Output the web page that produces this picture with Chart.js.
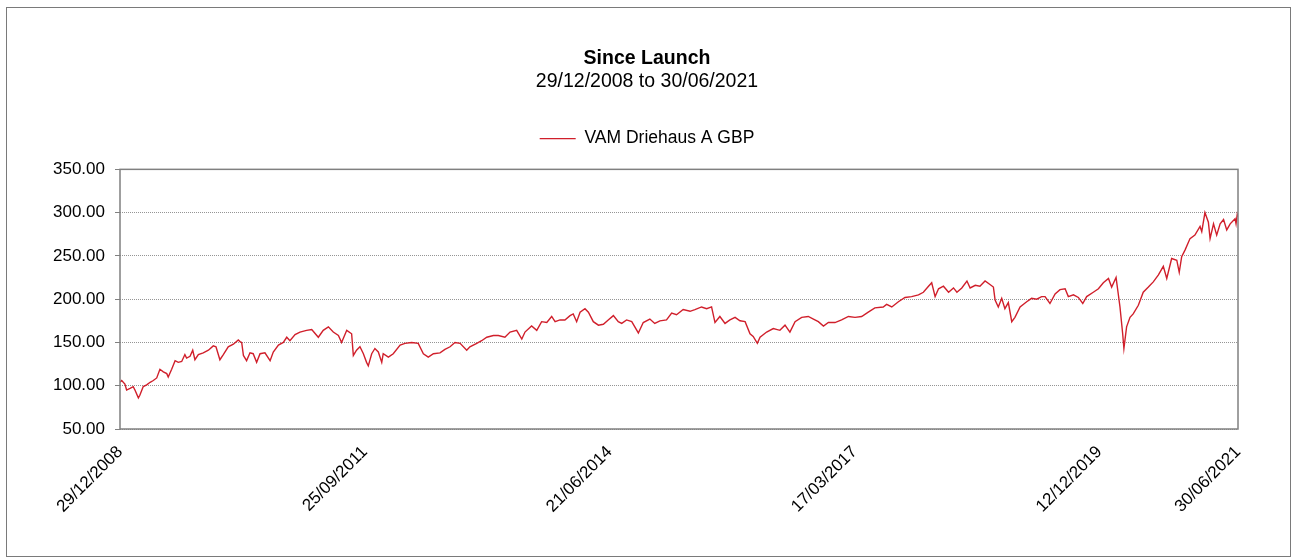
<!DOCTYPE html>
<html>
<head>
<meta charset="utf-8">
<script src="https://cdn.jsdelivr.net/npm/chart.js@4.4.0/dist/chart.umd.min.js"></script>
<style>
  body { margin: 0; background: #fff; }
  #wrap { position: relative; width: 1294px; height: 559px; }
  #frame { position: absolute; left: 6px; top: 7px; width: 1283px; height: 548px; border: 1px solid #7a7a7a; pointer-events: none; }
</style>
</head>
<body>
<div id="wrap">
  <canvas id="perf-chart"></canvas>
  <div id="frame"></div>
</div>
<script>
// days since launch (29/12/2008) and index value
const launchDate = Date.UTC(2008, 11, 29);
const endDay = 4566; // 30/06/2021
const tickDays = [0, 1000, 2000, 3000, 4000, 4566];
const yTicks = [50, 100, 150, 200, 250, 300, 350];

const days = [
  0, 7, 20, 27, 41, 54, 61, 75, 81, 95, 109, 123, 136, 150, 163, 177, 191, 197, 211, 225,
  238, 252, 265, 272, 286, 297, 306, 320, 340, 361, 381, 392, 408, 422, 442, 463, 483, 490,
  497, 504, 517, 531, 544, 558, 572, 592, 613, 626, 647, 667, 681, 694, 715, 735, 762, 783,
  810, 830, 851, 871, 892, 905, 926, 946, 953, 966, 980, 994, 1007, 1014, 1028, 1041, 1055,
  1069, 1075, 1096, 1116, 1144, 1164, 1191, 1218, 1239, 1259, 1280, 1307, 1327, 1348, 1368,
  1389, 1416, 1429, 1457, 1477, 1498, 1525, 1545, 1572, 1593, 1620, 1641, 1654, 1681, 1702,
  1722, 1743, 1763, 1777, 1797, 1817, 1838, 1851, 1865, 1879, 1899, 1913, 1933, 1954, 1974,
  1994, 2015, 2035, 2049, 2069, 2090, 2117, 2137, 2164, 2184, 2205, 2232, 2253, 2273, 2300,
  2328, 2348, 2375, 2396, 2416, 2430, 2450, 2471, 2491, 2512, 2532, 2553, 2573, 2586, 2603,
  2614, 2641, 2668, 2695, 2716, 2736, 2757, 2784, 2811, 2832, 2852, 2873, 2893, 2920, 2947,
  2975, 3002, 3029, 3056, 3083, 3117, 3131, 3152, 3179, 3206, 3233, 3261, 3281, 3302, 3315,
  3329, 3343, 3363, 3384, 3404, 3418, 3438, 3459, 3472, 3493, 3512, 3533, 3553, 3567, 3574,
  3587, 3601, 3614, 3628, 3642, 3655, 3676, 3703, 3723, 3744, 3764, 3778, 3798, 3819, 3839,
  3860, 3873, 3894, 3914, 3932, 3948, 3975, 3996, 4016, 4037, 4050, 4068, 4077, 4084, 4095,
  4100, 4111, 4125, 4138, 4159, 4179, 4200, 4220, 4241, 4261, 4275, 4295, 4316, 4326, 4336,
  4350, 4370, 4390, 4411, 4418, 4431, 4445, 4452, 4466, 4479, 4493, 4507, 4520, 4534, 4554,
  4558, 4563, 4566
];

const navValues = [
  104, 106, 102, 95, 97, 99, 95, 86, 89, 99, 101, 104, 106, 109, 119, 116, 114, 110, 119, 129,
  127, 128, 136, 132, 134, 141, 130, 136, 138, 141, 146, 145, 130, 136, 145, 148, 153, 151,
  150, 135, 129, 138, 137, 127, 137, 138, 129, 139, 147, 150, 156, 152, 159, 162, 164, 165,
  156, 164, 168, 162, 158, 150, 164, 160, 135, 141, 145, 137, 127, 123, 137, 143, 139,
  127, 137, 133, 137, 147, 149, 150, 149, 137, 133, 137, 138, 142, 145, 150,
  149, 141, 145, 149, 152, 156, 158, 158, 156, 162, 164, 154, 162, 169, 164,
  174, 173, 180, 174, 176, 176, 181, 183, 174, 185, 189, 185, 174, 170, 171,
  176, 181, 174, 172, 176, 174, 161, 173, 177, 172, 175, 176, 184, 182, 188,
  186, 188, 191, 189, 191, 173, 180, 172, 176, 179, 175, 174, 160, 157, 149,
  156, 162, 166, 164, 170, 162, 174, 179, 180, 177, 174, 169, 173, 173, 176,
  180, 179, 180, 185, 190, 191, 194, 191, 197, 202, 203, 205, 208, 215, 219,
  203, 212, 215, 208, 213, 208, 213, 221, 213, 216, 215, 221, 217, 214, 199,
  191, 201, 189, 196, 174, 179, 191, 197, 201, 200, 203, 203, 195, 206, 211,
  212, 203, 205, 202, 195, 203, 208, 212, 219, 224, 214, 225, 206, 191, 160,
  143, 168, 179, 183, 193, 208, 214, 220, 228, 238, 224, 247, 245, 231, 249,
  257, 270, 274, 284, 278, 300, 289, 270, 287, 274, 287, 292, 280, 287, 293,
  287, 298, 295
];

function formatDay(d) {
  const dt = new Date(launchDate + d * 86400000);
  const dd = String(dt.getUTCDate()).padStart(2, '0');
  const mm = String(dt.getUTCMonth() + 1).padStart(2, '0');
  return dd + '/' + mm + '/' + dt.getUTCFullYear();
}

// grey frame round the plot area
const plotFrame = {
  id: 'plotFrame',
  afterDatasetsDraw(chart) {
    const {ctx, chartArea: a} = chart;
    ctx.save();
    ctx.strokeStyle = '#808080';
    ctx.lineWidth = 1.5;
    ctx.strokeRect(a.left, a.top, a.right - a.left, a.bottom - a.top);
    ctx.restore();
  }
};

// a bit more room under the legend
const legendGap = {
  id: 'legendGap',
  beforeInit(chart) {
    const fit = chart.legend.fit;
    chart.legend.fit = function () {
      fit.bind(chart.legend)();
      this.height += 12;
    };
  }
};

const font = 'Liberation Sans, Arial, sans-serif';

new Chart(document.querySelector('#perf-chart').getContext('2d'), {
  type: 'line',
  data: {
    datasets: [{
      label: 'VAM Driehaus A GBP',
      data: days.map((d, i) => ({x: d, y: navValues[i]})),
      borderColor: '#d01f2b',
      backgroundColor: '#d01f2b',
      borderWidth: 1.4,
      pointRadius: 0,
      tension: 0,
      fill: false
    }]
  },
  plugins: [plotFrame, legendGap],
  options: {
    responsive: true,
    maintainAspectRatio: false,
    animation: false,
    layout: { padding: { top: 37, left: 52, right: 52, bottom: 0 } },
    plugins: {
      title: {
        display: true,
        text: 'Since Launch',
        color: '#000',
        font: { family: font, size: 19.5, weight: 'bold' },
        padding: { top: 10, bottom: 0 }
      },
      subtitle: {
        display: true,
        text: '29/12/2008 to 30/06/2021',
        color: '#000',
        font: { family: font, size: 19.5, lineHeight: 1.1 },
        padding: { top: 0, bottom: 16 }
      },
      legend: {
        display: true,
        labels: {
          color: '#000',
          font: { family: font, size: 17.5 },
          usePointStyle: true,
          pointStyle: 'line',
          pointStyleWidth: 36,
          boxHeight: 10,
          padding: 22
        }
      },
      tooltip: { enabled: false }
    },
    scales: {
      x: {
        type: 'linear',
        min: 0,
        max: endDay,
        afterBuildTicks(scale) { scale.ticks = tickDays.map(v => ({value: v})); },
        afterFit(scale) { scale.height = 130; },
        ticks: {
          color: '#000',
          font: { family: font, size: 17 },
          minRotation: 45,
          maxRotation: 45,
          padding: 13,
          callback: v => formatDay(v)
        },
        grid: { display: true, drawOnChartArea: false, drawTicks: false },
        border: { display: false }
      },
      y: {
        min: 50,
        max: 350,
        afterBuildTicks(scale) { scale.ticks = yTicks.map(v => ({value: v})); },
        afterFit(scale) { scale.width = 68; },
        ticks: {
          color: '#000',
          font: { family: font, size: 17 },
          padding: 10,
          callback: v => Number(v).toFixed(2)
        },
        grid: {
          color: '#959595',
          lineWidth: 1,
          tickLength: 5,
          tickColor: '#808080',
          tickBorderDash: []
        },
        border: { display: false, dash: [1, 1] }
      },
      // empty strip on the right so the plot ends where the reference does
      yRight: {
        position: 'right',
        display: true,
        afterFit(scale) { scale.width = 4; },
        ticks: { display: false },
        grid: { display: false },
        border: { display: false }
      }
    }
  }
});
</script>
</body>
</html>
